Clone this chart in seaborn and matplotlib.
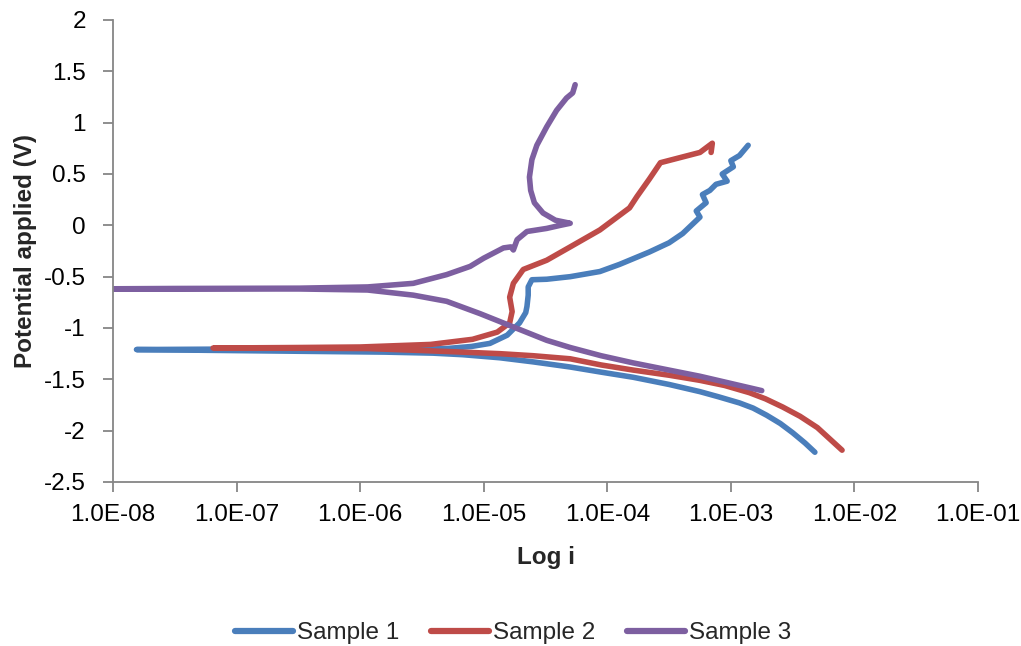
import numpy as np
import pandas as pd
import matplotlib
matplotlib.use("Agg")
import matplotlib.pyplot as plt
import seaborn as sns

# ---- data (log10 of current density, potential in V), ordered along each scan ----
s1_logi = [-2.32, -2.40, -2.50, -2.60, -2.71, -2.82, -2.93, -3.10, -3.25, -3.50, -3.79, -4.05,
           -4.30, -4.60, -4.87, -5.17, -5.41, -5.80, -6.22, -7.03, -7.81,
           -7.00, -6.00, -5.60, -5.30, -5.10, -4.95, -4.81, -4.71, -4.66, -4.65, -4.64, -4.64,
           -4.61, -4.49, -4.30, -4.06, -3.90, -3.66, -3.50, -3.39, -3.25, -3.28, -3.20, -3.23,
           -3.17, -3.12, -3.03, -3.07, -2.98, -3.00, -2.93, -2.86]
s1_v = [-2.21, -2.12, -2.02, -1.93, -1.85, -1.78, -1.73, -1.67, -1.62, -1.55, -1.48, -1.43,
        -1.38, -1.33, -1.29, -1.26, -1.245, -1.235, -1.23, -1.22, -1.21,
        -1.205, -1.20, -1.21, -1.20, -1.18, -1.15, -1.07, -0.95, -0.85, -0.79, -0.68, -0.60,
        -0.53, -0.525, -0.50, -0.45, -0.38, -0.26, -0.17, -0.08, 0.08, 0.14, 0.22, 0.30,
        0.34, 0.40, 0.43, 0.50, 0.57, 0.63, 0.68, 0.78]

s2_logi = [-2.10, -2.20, -2.30, -2.44, -2.58, -2.72, -2.85, -3.05, -3.25, -3.50, -3.79, -4.05,
           -4.30, -4.60, -4.87, -5.27, -5.60, -5.94, -6.75, -7.19,
           -6.50, -6.00, -5.43, -5.09, -4.89, -4.79, -4.77, -4.79, -4.76, -4.68, -4.49, -4.30,
           -4.06, -3.82, -3.76, -3.66, -3.57, -3.41, -3.25, -3.15, -3.16]
s2_v = [-2.19, -2.08, -1.97, -1.86, -1.77, -1.69, -1.63, -1.56, -1.51, -1.46, -1.41, -1.36,
        -1.30, -1.27, -1.25, -1.23, -1.215, -1.20, -1.195, -1.195,
        -1.19, -1.185, -1.16, -1.11, -1.04, -0.95, -0.84, -0.70, -0.565, -0.43, -0.34, -0.21,
        -0.045, 0.17, 0.28, 0.45, 0.61, 0.66, 0.71, 0.80, 0.71]

s3_logi = [-2.75, -3.00, -3.25, -3.50, -3.79, -4.05, -4.30, -4.49, -4.76, -5.03, -5.30, -5.57,
           -5.94, -6.49, -7.50, -8.30,
           -7.50, -6.49, -5.94, -5.57, -5.30, -5.11, -5.00, -4.84, -4.78, -4.76, -4.73, -4.65,
           -4.49, -4.38, -4.30, -4.42, -4.52, -4.59, -4.62, -4.63, -4.61, -4.57, -4.49, -4.41,
           -4.33, -4.28, -4.26]
s3_v = [-1.61, -1.54, -1.47, -1.41, -1.34, -1.27, -1.19, -1.12, -0.99, -0.86, -0.74, -0.68,
        -0.63, -0.62, -0.62, -0.62,
        -0.615, -0.612, -0.60, -0.565, -0.48, -0.40, -0.32, -0.22, -0.21, -0.24, -0.14, -0.06,
        -0.03, 0.00, 0.02, 0.05, 0.12, 0.22, 0.34, 0.47, 0.64, 0.78, 0.96, 1.12,
        1.24, 1.29, 1.37]

series_names = ["Sample 1", "Sample 2", "Sample 3"]
colors = ["#4A7EBB", "#BE4B48", "#7D5FA0"]
x_ticks = [1e-8, 1e-7, 1e-6, 1e-5, 1e-4, 1e-3, 1e-2, 1e-1]
x_tick_labels = ["1.0E-08", "1.0E-07", "1.0E-06", "1.0E-05", "1.0E-04", "1.0E-03", "1.0E-02", "1.0E-01"]
y_ticks = [-2.5, -2, -1.5, -1, -0.5, 0, 0.5, 1, 1.5, 2]
y_tick_labels = ["-2.5", "-2", "-1.5", "-1", "-0.5", "0", "0.5", "1", "1.5", "2"]

frames = []
for name, li, v in zip(series_names, [s1_logi, s2_logi, s3_logi], [s1_v, s2_v, s3_v]):
    frames.append(pd.DataFrame({"i": 10.0 ** np.array(li), "V": v, "Sample": name}))
df = pd.concat(frames, ignore_index=True)

sns.set_theme(style="white")
plt.rcParams["font.family"] = ["Liberation Sans", "DejaVu Sans"]
FS = 17.5

fig = plt.figure(figsize=(10.21, 6.46), dpi=100)
ax = fig.add_axes([113 / 1021, 1 - 482 / 646, (978 - 113) / 1021, (482 - 20) / 646])

sns.lineplot(data=df, x="i", y="V", hue="Sample", sort=False, estimator=None,
             palette=colors, linewidth=4.0, ax=ax, legend=True)
for ln in ax.lines:
    ln.set_solid_capstyle("round")
    ln.set_solid_joinstyle("round")

ax.set_xscale("log")
ax.set_xlim(1e-8, 1e-1)
ax.set_ylim(-2.5, 2)
ax.set_xticks(x_ticks)
ax.set_xticklabels(x_tick_labels, fontsize=FS, color="black")
ax.set_yticks(y_ticks)
ax.set_yticklabels(y_tick_labels, fontsize=FS, color="black")
ax.minorticks_off()

for side in ["top", "right"]:
    ax.spines[side].set_visible(False)
for side in ["left", "bottom"]:
    ax.spines[side].set_color("#868686")
    ax.spines[side].set_linewidth(1.3)
ax.tick_params(axis="both", which="major", direction="out", length=7, width=1.3,
               color="#868686", left=True, bottom=True)
ax.tick_params(axis="y", pad=12.5)
ax.tick_params(axis="x", pad=9)

ax.set_xlabel("Log i", fontsize=FS, fontweight="bold", labelpad=14)
ax.set_ylabel("Potential applied (V)", fontsize=FS, fontweight="bold", labelpad=5)

handles, labels = ax.get_legend_handles_labels()
ax.get_legend().remove()
for h in handles:
    h.set_linewidth(4.5)
fig.legend(handles, labels, loc="center", bbox_to_anchor=(513 / 1021, 1 - 633 / 646),
           ncol=3, frameon=False, fontsize=FS, handlelength=2.4, handletextpad=0.15,
           columnspacing=1.3)

fig.savefig("out.png", dpi=100)
